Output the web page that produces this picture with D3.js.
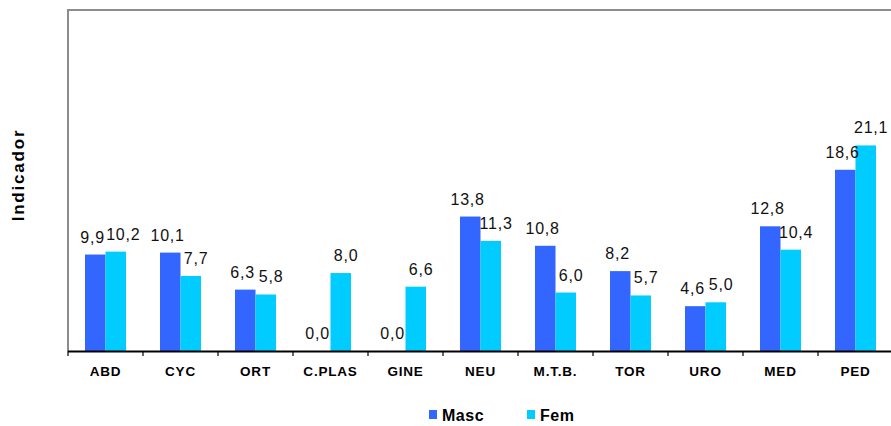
<!DOCTYPE html>
<html>
<head>
<meta charset="utf-8">
<script src="https://cdn.jsdelivr.net/npm/d3@7"></script>
<style>
  html, body { margin: 0; padding: 0; background: #fff; }
  svg { display: block; font-family: "Liberation Sans", Arial, sans-serif; }
</style>
</head>
<body>
<svg id="chart" width="891" height="426"></svg>
<script>
const categories = ["ABD", "CYC", "ORT", "C.PLAS", "GINE", "NEU", "M.T.B.", "TOR", "URO", "MED", "PED"];
const seriesNames = ["Masc", "Fem"];
const masc = [9.9, 10.1, 6.3, 0.0, 0.0, 13.8, 10.8, 8.2, 4.6, 12.8, 18.6];
const fem  = [10.2, 7.7, 5.8, 8.0, 6.6, 11.3, 6.0, 5.7, 5.0, 10.4, 21.1];
const yTitle = "Indicador";

const colors = { Masc: "#3366FF", Fem: "#00CCFF" };
const labelShift = { Masc: -3, Fem: 5 };
const values = { Masc: masc, Fem: fem };

const svg = d3.select("#chart");
const mLeft = 68, mRight = 893, mTop = 10, mBottom = 351;

const x = d3.scaleBand().domain(categories).range([mLeft, mRight]).padding(0);
const x1 = d3.scaleBand().domain(seriesNames).range([0, x.bandwidth()]).paddingInner(0).paddingOuter(0.83);
const y = d3.scaleLinear().domain([0, 35]).range([mBottom, mTop]);

// plot frame (top + left gray)
svg.append("line").attr("x1", mLeft).attr("x2", mRight).attr("y1", mTop).attr("y2", mTop)
  .attr("stroke", "#8c8c8c").attr("stroke-width", 2);
svg.append("line").attr("x1", mLeft).attr("x2", mLeft).attr("y1", mTop - 1).attr("y2", mBottom)
  .attr("stroke", "#8c8c8c").attr("stroke-width", 2);

const data = [];
categories.forEach((c, i) => seriesNames.forEach(s => data.push({ cat: c, s, v: values[s][i] })));

// bars
svg.append("g").selectAll("rect").data(data).join("rect")
  .attr("x", d => x(d.cat) + x1(d.s))
  .attr("y", d => y(d.v))
  .attr("width", x1.bandwidth())
  .attr("height", d => y(0) - y(d.v))
  .attr("fill", d => colors[d.s]);

// value labels
const fmt = v => v.toFixed(1).replace(".", ",");
const labels = svg.append("g").selectAll("text").data(data).join("text")
  .attr("text-anchor", "start")
  .attr("font-size", 16)
  .attr("letter-spacing", "0.8px")
  .attr("fill", "#111")
  .text(d => fmt(d.v));

// position labels centred over bars, nudging right to avoid overlap
let prev = null;
labels.each(function(d) {
  const w = this.getComputedTextLength() - 0.8;
  const cx = x(d.cat) + x1(d.s) + x1.bandwidth() / 2 + labelShift[d.s];
  let lx = cx - w / 2;
  const ly = y(d.v) - 12;
  if (prev && Math.abs(prev.y - ly) < 16 && lx < prev.right + 2) lx = prev.right + 2;
  d3.select(this).attr("x", lx).attr("y", ly);
  prev = { right: lx + w, y: ly };
});

// x axis
const xAxis = d3.axisBottom(x).tickSize(0).tickPadding(0);
const gx = svg.append("g").attr("transform", `translate(0,${mBottom})`).call(xAxis);
gx.select(".domain").remove();
gx.selectAll(".tick text")
  .attr("y", 25)
  .attr("dy", 0)
  .attr("font-size", 13.5)
  .attr("font-weight", "bold")
  .attr("letter-spacing", "0.8px")
  .attr("font-family", "'Liberation Sans', Arial, sans-serif")
  .attr("fill", "#000");
svg.append("line").attr("x1", mLeft).attr("x2", mRight).attr("y1", mBottom + 0.5).attr("y2", mBottom + 0.5)
  .attr("stroke", "#000").attr("stroke-width", 1.8);
// category boundary ticks
const bounds = categories.map(c => x(c));
svg.append("g").selectAll("line").data(bounds).join("line")
  .attr("x1", d => d).attr("x2", d => d)
  .attr("y1", mBottom).attr("y2", mBottom + 5)
  .attr("stroke", "#000").attr("stroke-width", 1.2);

// y title
svg.append("text")
  .attr("transform", `translate(24,${(128 + 222) / 2}) rotate(-90)`)
  .attr("text-anchor", "middle")
  .attr("font-size", 17)
  .attr("font-weight", "bold")
  .attr("letter-spacing", "1.8px")
  .text(yTitle);

// legend
const legendX = { Masc: 429, Fem: 527 };
const lg = svg.append("g");
seriesNames.forEach(s => {
  lg.append("rect").attr("x", legendX[s]).attr("y", 410).attr("width", 8).attr("height", 9).attr("fill", colors[s]);
  lg.append("text").attr("x", legendX[s] + 13).attr("y", 421)
    .attr("font-size", 16).attr("font-weight", "bold").attr("letter-spacing", "0.5px").text(s);
});
</script>
</body>
</html>
